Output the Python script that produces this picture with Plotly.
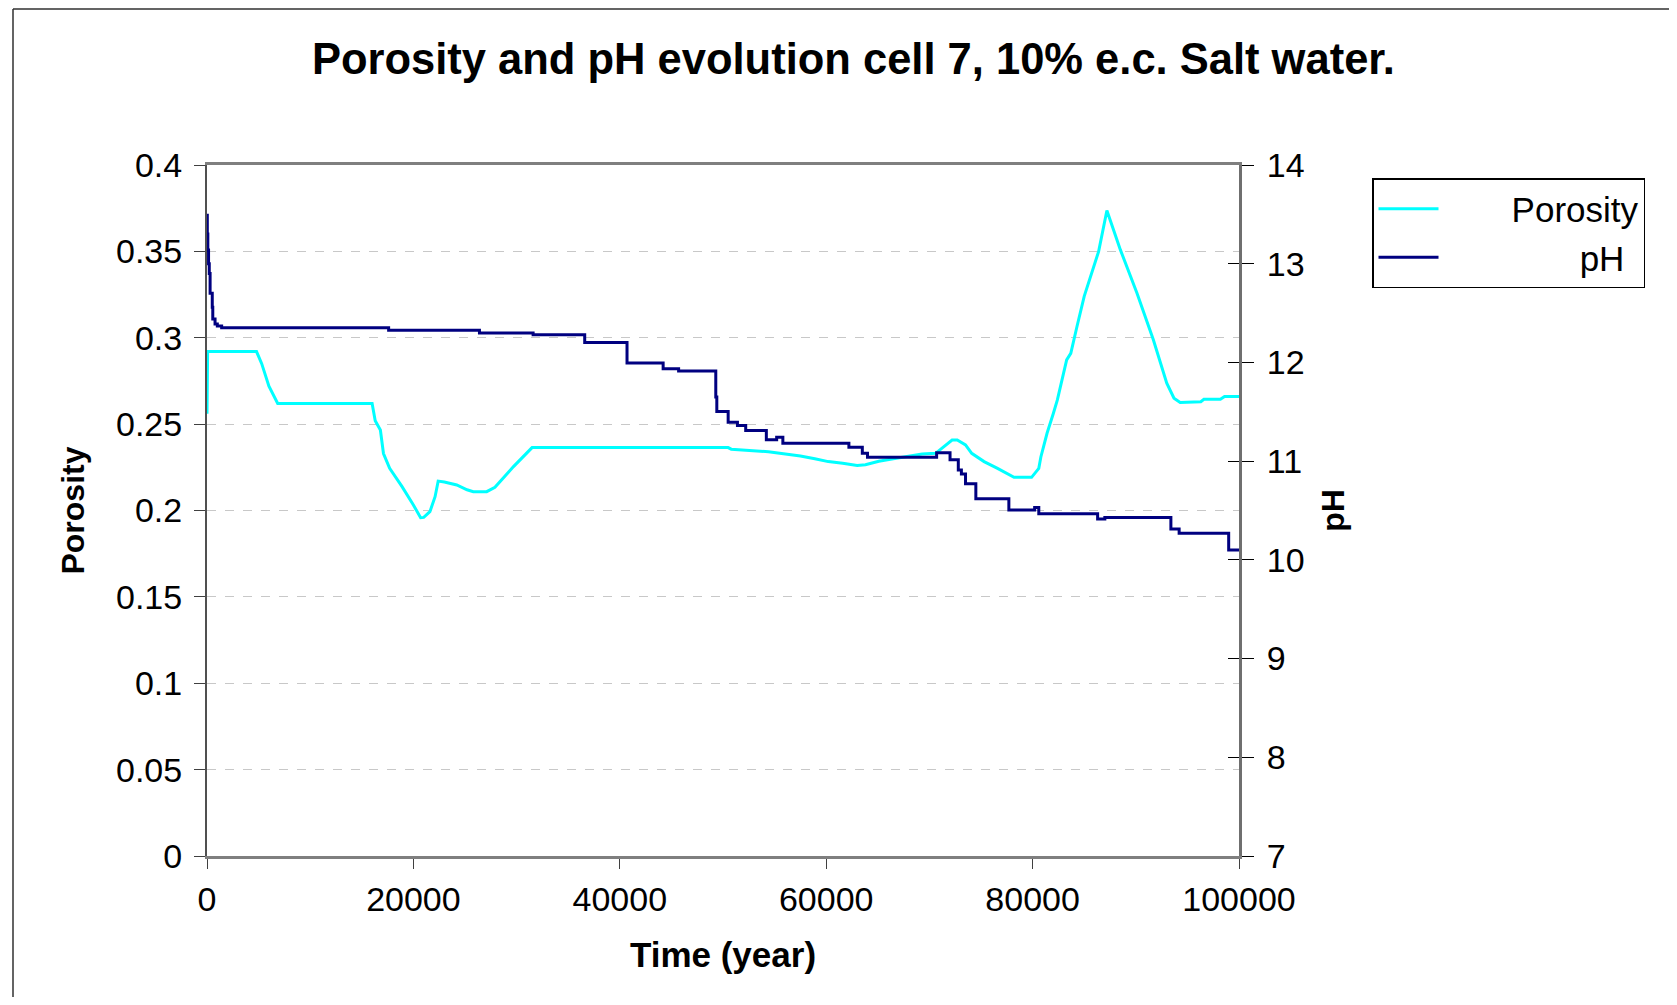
import plotly.graph_objects as go

# ---------------- data ----------------
por_time = [0, 60, 4800, 5300, 6000, 6850, 16000, 16300, 16800, 17100, 17700, 18900,
            20000, 20700, 21000, 21600, 22100, 22400, 23000, 24200, 25200, 25800,
            27100, 27900, 29700, 31500, 50500, 50800, 54400, 56200, 57500, 58900,
            60200, 61600, 63000, 63800, 65100, 66500, 67800, 69300, 70600, 71400,
            72200, 72700, 73500, 74100, 75300, 76600, 78200, 79900, 80600, 80800,
            81400, 82000, 82400, 83300, 83700, 84300, 85000, 86400, 87200, 88500,
            90100, 91700, 93000, 93700, 94300, 96300, 96600, 98200, 98600, 100000]
porosity = [0.256, 0.292, 0.292, 0.285, 0.272, 0.262, 0.262, 0.252, 0.2466, 0.233, 0.2244, 0.2138,
            0.2032, 0.1958, 0.196, 0.1993, 0.208, 0.217, 0.2165, 0.2148, 0.212, 0.2109,
            0.2109, 0.2134, 0.2254, 0.2364, 0.2364, 0.2355, 0.234, 0.2327, 0.2316, 0.230,
            0.2283, 0.2273, 0.226, 0.2265, 0.2285, 0.230, 0.2312, 0.2327, 0.2331, 0.237,
            0.2408, 0.2408, 0.238, 0.2331, 0.2283, 0.2244, 0.2192, 0.2192, 0.2244, 0.231,
            0.2447, 0.256, 0.264, 0.2872, 0.291, 0.3065, 0.324, 0.35, 0.3737, 0.351,
            0.326, 0.2988, 0.2737, 0.265, 0.2625, 0.263, 0.2644, 0.2644, 0.266, 0.266]

ph_time = [0, 30, 80, 150, 220, 300, 510, 560, 780, 1000, 1420, 17600, 26400, 31600,
           36600, 40700, 44200, 45700, 49300, 49400, 50500, 51400, 52200, 54200, 55200,
           55800, 62200, 63500, 64000, 70700, 72000, 72800, 73100, 73500, 74500, 77700,
           80200, 80600, 86300, 87000, 93400, 94200, 99000, 100000]
ph = [13.49, 13.3, 13.14, 13.0, 12.9, 12.70, 12.56, 12.44, 12.39, 12.37, 12.352, 12.325, 12.297, 12.281,
      12.203, 11.993, 11.936, 11.912, 11.65, 11.503, 11.395, 11.361, 11.31, 11.216, 11.243,
      11.182, 11.141, 11.08, 11.04, 11.084, 11.013, 10.91, 10.87, 10.77, 10.62, 10.506,
      10.53, 10.466, 10.415, 10.43, 10.313, 10.27, 10.10, 10.10]

x_ticks = [0, 20000, 40000, 60000, 80000, 100000]
por_ticks = [0, 0.05, 0.1, 0.15, 0.2, 0.25, 0.3, 0.35, 0.4]
por_ticktext = ["0", "0.05", "0.1", "0.15", "0.2", "0.25", "0.3", "0.35", "0.4"]
ph_ticks = [7, 8, 9, 10, 11, 12, 13, 14]

series_names = ["Porosity", "pH"]
title_text = "Porosity and pH evolution cell 7, 10% e.c. Salt water."

# ---------------- figure ----------------
W, H = 1661, 989
ML, MR, MT, MB = 199, 430, 157, 141
PW, PH = W - ML - MR, H - MT - MB
FONT = "Liberation Sans, Arial, sans-serif"
NB = "\u00a0"

fig = go.Figure()
fig.add_trace(go.Scatter(x=por_time, y=porosity, name=NB * 7 + series_names[0], mode="lines",
                         line=dict(color="#00FFFF", width=3), yaxis="y"))
fig.add_trace(go.Scatter(x=ph_time, y=ph, name=NB * 14 + series_names[1], mode="lines",
                         line=dict(color="#000080", width=3, shape="hv"), yaxis="y2"))

fig.update_layout(
    width=W, height=H,
    margin=dict(l=ML, r=MR, t=MT, b=MB, pad=0),
    paper_bgcolor="white", plot_bgcolor="white",
    font=dict(family=FONT, color="black"),
    title=dict(text="<b>" + title_text + "</b>", x=0.509, xanchor="center",
               y=1 - 51 / H, yanchor="middle", font=dict(size=43.5, family=FONT)),
    xaxis=dict(range=[0, 100000], tickvals=x_ticks, ticktext=[str(v) for v in x_ticks],
               showgrid=False, zeroline=False, showline=True, linecolor="#7f7f7f", linewidth=3,
               mirror=True, ticks="outside", ticklen=10, tickwidth=1, tickcolor="#404040",
               tickfont=dict(size=34), ticklabelstandoff=1,
               title=dict(text="<b>Time (year)</b>", font=dict(size=35), standoff=26)),
    yaxis=dict(range=[0, 0.4], tickvals=por_ticks, ticktext=por_ticktext,
               showgrid=True, gridcolor="#c8c8c8", griddash="dash", gridwidth=1,
               zeroline=False, showline=True, linecolor="#505050", linewidth=2,
               ticks="outside", ticklen=11, tickwidth=1, tickcolor="#404040",
               tickfont=dict(size=34), ticklabelstandoff=5,
               title=dict(text="<b>Porosity</b>", font=dict(size=32), standoff=22)),
    yaxis2=dict(range=[7, 14], tickvals=ph_ticks, overlaying="y", side="right",
                showgrid=False, zeroline=False, showline=True, linecolor="#6f6f6f", linewidth=3,
                ticks="outside", ticklen=12, tickwidth=1, tickcolor="black",
                tickfont=dict(size=34), ticklabelstandoff=6,
                title=dict(text="<b>pH</b>", font=dict(size=32), standoff=18)),
    yaxis3=dict(range=[7, 14], tickvals=ph_ticks, overlaying="y", side="right",
                showgrid=False, zeroline=False, showline=False, showticklabels=False,
                ticks="inside", ticklen=11, tickwidth=1, tickcolor="black"),
    legend=dict(x=(1372 - 8 - ML) / PW, y=1 - 13 / PH, xanchor="left", yanchor="top",
                bordercolor="black", borderwidth=1.5, bgcolor="white",
                font=dict(size=35), itemwidth=60),
    showlegend=True,
)

# invisible trace to activate yaxis3
fig.add_trace(go.Scatter(x=[0], y=[7], yaxis="y3", mode="lines", showlegend=False,
                         hoverinfo="skip", line=dict(width=0)))

# outer chart border (left and top lines)
bx = (13 - 8 - ML) / PW
by = 1 + (MT - 1) / PH
fig.add_shape(type="line", xref="paper", yref="paper", x0=bx, x1=bx, y0=-MB / PH, y1=by,
              line=dict(color="#303030", width=1.5))
fig.add_shape(type="line", xref="paper", yref="paper", x0=bx, x1=(W - ML) / PW, y0=by, y1=by,
              line=dict(color="#303030", width=1.5))

fig.write_html("out.html")
